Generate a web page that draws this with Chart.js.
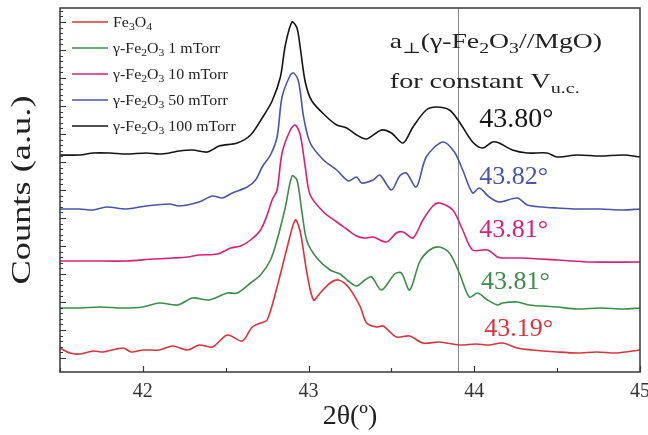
<!DOCTYPE html>
<html>
<head>
<meta charset="utf-8">
<script src="https://cdn.jsdelivr.net/npm/chart.js@4.4.0/dist/chart.umd.min.js"></script>
<style>
  html, body { margin: 0; padding: 0; background: #fff; }
  #wrap { width: 648px; height: 435px; }
</style>
</head>
<body>
<div id="wrap"><canvas id="xrd" width="648" height="435"></canvas></div>
<script>
// 2theta scans, offset per sample (arbitrary counts)
const fe3o4 = [[41.50,24],[41.56,19],[41.62,18],[41.70,21],[41.76,20],[41.88,24],[41.93,20],[42.00,22],[42.10,22],[42.18,26],[42.27,22],[42.34,27],[42.42,25],[42.51,37],[42.60,31],[42.66,45],[42.71,49],[42.75,52],[42.81,85],[42.87,124],[42.92,152],[42.95,140],[42.99,99],[43.03,72],[43.07,79],[43.13,89],[43.18,92],[43.24,85],[43.31,66],[43.35,49],[43.41,45],[43.45,46],[43.53,35],[43.61,36],[43.69,29],[43.79,30],[43.91,27],[44.01,28],[44.09,27],[44.17,29],[44.26,24],[44.35,22],[44.50,20],[44.62,19],[44.74,20],[44.86,19],[45.00,22]];
const gamma1 = [[41.50,64],[41.62,64],[41.74,65],[41.88,64],[42.00,65],[42.10,69],[42.21,67],[42.30,74],[42.40,72],[42.51,79],[42.57,79],[42.65,89],[42.71,97],[42.77,112],[42.81,132],[42.86,165],[42.90,196],[42.93,192],[42.96,160],[42.99,131],[43.05,114],[43.13,102],[43.19,98],[43.24,91],[43.29,86],[43.34,92],[43.38,95],[43.44,82],[43.52,98],[43.56,99],[43.61,82],[43.67,110],[43.73,122],[43.79,125],[43.85,119],[43.91,99],[43.97,75],[44.02,79],[44.08,72],[44.14,67],[44.17,69],[44.26,70],[44.33,67],[44.50,65],[44.62,63],[44.76,64],[44.90,63],[45.00,64]];
const gamma10 = [[41.50,111],[41.70,111],[41.90,111],[42.06,113],[42.18,114],[42.27,115],[42.34,117],[42.45,118],[42.53,124],[42.59,126],[42.65,132],[42.71,142],[42.75,157],[42.78,172],[42.81,182],[42.84,219],[42.89,242],[42.92,247],[42.95,237],[42.98,205],[43.01,177],[43.09,160],[43.17,150],[43.23,143],[43.29,136],[43.34,134],[43.39,135],[43.47,130],[43.53,139],[43.57,140],[43.63,134],[43.69,152],[43.75,166],[43.79,169],[43.87,162],[43.93,142],[43.99,122],[44.08,122],[44.14,115],[44.17,114],[44.29,114],[44.50,112],[44.70,110],[45.00,110]];
const gamma50 = [[41.50,163],[41.62,163],[41.70,162],[41.78,165],[41.90,163],[42.02,166],[42.16,168],[42.22,166],[42.34,170],[42.42,176],[42.48,174],[42.54,179],[42.63,185],[42.68,192],[42.72,205],[42.77,217],[42.81,235],[42.84,275],[42.89,297],[42.91,299],[42.94,290],[42.97,255],[43.01,229],[43.09,212],[43.17,202],[43.24,191],[43.29,195],[43.32,189],[43.39,192],[43.43,197],[43.50,182],[43.55,196],[43.59,199],[43.65,185],[43.71,215],[43.81,230],[43.88,220],[43.93,202],[43.99,179],[44.03,184],[44.09,175],[44.15,170],[44.26,174],[44.32,167],[44.41,165],[44.50,164],[44.62,163],[44.76,163],[44.90,162],[45.00,163]];
const gamma100 = [[41.50,217],[41.62,217],[41.70,219],[41.80,219],[41.90,218],[42.02,219],[42.10,218],[42.16,219],[42.22,221],[42.30,222],[42.39,220],[42.46,226],[42.57,229],[42.65,237],[42.72,254],[42.78,271],[42.83,295],[42.86,327],[42.90,350],[42.93,344],[42.95,324],[42.98,290],[43.02,271],[43.11,255],[43.17,247],[43.23,244],[43.29,237],[43.35,233],[43.44,242],[43.50,239],[43.57,229],[43.63,245],[43.71,262],[43.77,265],[43.85,262],[43.91,250],[43.99,230],[44.05,224],[44.11,230],[44.15,229],[44.23,222],[44.32,219],[44.44,219],[44.50,215],[44.62,217],[44.76,216],[44.90,217],[45.00,215]];

const seriesNames = ['Fe_{3}O_{4}', 'γ-Fe_{2}O_{3} 1 mTorr', 'γ-Fe_{2}O_{3} 10 mTorr', 'γ-Fe_{2}O_{3} 50 mTorr', 'γ-Fe_{2}O_{3} 100 mTorr'];
const seriesColors = ['#d8343f', '#3d8c4c', '#d6207a', '#4a55a8', '#151515'];
const peakLabels = ['43.19°', '43.81°', '43.81°', '43.82°', '43.80°'];
const xTickValues = [41.5, 42, 42.5, 43, 43.5, 44, 44.5, 45];
const refLine = 43.9;
const header = ['a_{⊥}(γ-Fe_{2}O_{3}//MgO)', 'for constant V_{u.c.}'];
const yTitle = 'Counts (a.u.)';

const FONT = '"Liberation Serif", "DejaVu Serif", serif';

// text with _{..} subscripts
function drawRich(ctx, str, x, y, size, color, stretch) {
  const re = /_\{([^}]*)\}/g;
  const parts = [];
  let last = 0, m;
  while ((m = re.exec(str))) {
    if (m.index > last) parts.push([str.slice(last, m.index), false]);
    parts.push([m[1], true]);
    last = re.lastIndex;
  }
  if (last < str.length) parts.push([str.slice(last), false]);
  ctx.save();
  ctx.translate(x, y);
  ctx.scale(stretch || 1, 1);
  ctx.fillStyle = color;
  ctx.textAlign = 'left';
  ctx.textBaseline = 'alphabetic';
  let cx = 0;
  for (const [t, sub] of parts) {
    const s = sub ? Math.round(size * 0.7) : size;
    ctx.font = s + 'px ' + FONT;
    ctx.fillText(t, cx, sub ? size * 0.22 : 0);
    cx += ctx.measureText(t).width;
  }
  ctx.restore();
}

const decor = {
  id: 'decor',
  beforeDatasetsDraw(chart) {
    const {ctx, chartArea: a, scales: {x}} = chart;
    ctx.save();
    // reference line
    const lx = Math.round(x.getPixelForValue(refLine)) + 0.5;
    ctx.strokeStyle = '#8a8a8a';
    ctx.lineWidth = 1;
    ctx.beginPath();
    ctx.moveTo(lx, a.top);
    ctx.lineTo(lx, a.bottom);
    ctx.stroke();
    ctx.restore();
  },
  afterDraw(chart) {
    const {ctx, chartArea: a, scales: {x, y}} = chart;
    ctx.save();
    // frame
    ctx.strokeStyle = '#383838';
    ctx.lineWidth = 1.5;
    ctx.strokeRect(a.left, a.top, a.right - a.left, a.bottom - a.top);
    // inward ticks on x
    ctx.lineWidth = 1.2;
    ctx.beginPath();
    xTickValues.forEach(v => {
      const px = Math.round(x.getPixelForValue(v)) + 0.5;
      const len = Number.isInteger(v) ? 6 : 4;
      ctx.moveTo(px, a.bottom);
      ctx.lineTo(px, a.bottom - len);
    });
    // inward ticks on y (major + minor)
    for (let v = 14; v <= y.max; v += 28) {
      for (let k = 0; k < 5; k++) {
        const val = v + k * 5.6;
        if (val > y.max) break;
        const py = Math.round(y.getPixelForValue(val)) + 0.5;
        const len = k === 0 ? 6 : 3;
        ctx.moveTo(a.left, py);
        ctx.lineTo(a.left + len, py);
      }
    }
    ctx.stroke();

    // y title, stretched along the axis
    ctx.save();
    ctx.translate(30, (a.top + a.bottom) / 2);
    ctx.rotate(-Math.PI / 2);
    ctx.scale(1.3, 1);
    ctx.font = '28px ' + FONT;
    ctx.fillStyle = '#222';
    ctx.textAlign = 'center';
    ctx.textBaseline = 'alphabetic';
    ctx.fillText(yTitle, 0, 0);
    ctx.restore();

    // legend
    chart.data.datasets.forEach((ds, i) => {
      const ly = a.top + 14 + i * 26;
      ctx.strokeStyle = ds.borderColor;
      ctx.lineWidth = 1.6;
      ctx.beginPath();
      ctx.moveTo(a.left + 12, ly);
      ctx.lineTo(a.left + 48, ly);
      ctx.stroke();
      drawRich(ctx, seriesNames[i], a.left + 53, ly + 5, 15, '#222', 1.06);
    });

    // header text
    drawRich(ctx, header[0], x.getPixelForValue(43.49), y.getPixelForValue(324), 21, '#222', 1.32);
    drawRich(ctx, header[1], x.getPixelForValue(43.49), y.getPixelForValue(284), 21, '#222', 1.34);

    // peak position labels
    const lblY = [36, 83, 135, 188, 245];
    const lblX = [44.06, 44.04, 44.03, 44.03, 44.03];
    peakLabels.forEach((t, i) => {
      drawRich(ctx, t, x.getPixelForValue(lblX[i]), y.getPixelForValue(lblY[i]), i === 4 ? 28 : 26, seriesColors[i], 1.0);
    });
    ctx.restore();
  }
};

const allSeries = [fe3o4, gamma1, gamma10, gamma50, gamma100];

new Chart(document.getElementById('xrd'), {
  type: 'line',
  data: {
    datasets: allSeries.map((s, i) => ({
      label: seriesNames[i].replace(/_\{([^}]*)\}/g, '$1'),
      data: s.map(p => ({x: p[0], y: p[1]})),
      borderColor: seriesColors[i],
      borderWidth: 1.6,
      pointRadius: 0,
      fill: false,
      tension: 0.3
    }))
  },
  options: {
    responsive: false,
    devicePixelRatio: 1,
    animation: false,
    layout: { padding: { top: 8, right: 8, left: 0, bottom: 0 } },
    plugins: {
      legend: { display: false },
      tooltip: { enabled: false }
    },
    scales: {
      x: {
        type: 'linear',
        min: 41.5,
        max: 45,
        afterBuildTicks: s => { s.ticks = xTickValues.map(v => ({value: v})); },
        afterFit: s => { s.height = 63; s.paddingRight = 0; s.paddingLeft = 0; },
        grid: { drawOnChartArea: false, drawTicks: false },
        border: { display: false },
        ticks: {
          autoSkip: false,
          maxRotation: 0,
          padding: 8,
          color: '#333',
          font: { family: FONT, size: 20 },
          callback: v => Number.isInteger(v) ? String(v) : ''
        },
        title: {
          display: true,
          text: '2θ(º)',
          color: '#222',
          font: { family: FONT, size: 28 },
          padding: { top: 0, bottom: 2 }
        }
      },
      y: {
        min: 0,
        max: 364,
        afterFit: s => { s.width = 60; },
        grid: { drawOnChartArea: false, drawTicks: false },
        border: { display: false },
        ticks: { display: false },
        title: { display: false }
      }
    }
  },
  plugins: [decor]
});
</script>
</body>
</html>
